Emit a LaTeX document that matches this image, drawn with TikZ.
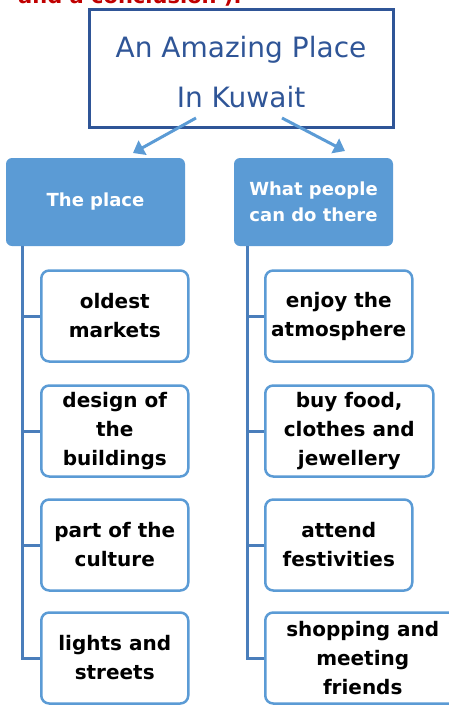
\documentclass[tikz,border=0pt]{standalone}
\usepackage{fontspec}
\setmainfont{DejaVu Sans}
\usetikzlibrary{arrows.meta}
\definecolor{titleblue}{HTML}{2F5597}
\definecolor{boxblue}{HTML}{5B9BD5}
\definecolor{lineblue}{HTML}{4A7EBB}
\definecolor{headred}{HTML}{C00000}
\begin{document}
\begin{tikzpicture}[x=1pt,y=-1pt,
  head/.style={fill=boxblue, rounded corners=6pt, text=white,
    font=\bfseries\fontsize{18}{26}\selectfont, align=center,
    minimum height=88pt, inner sep=0pt},
  item/.style={draw=boxblue, line width=2.5pt, rounded corners=8pt, fill=white,
    font=\bfseries\fontsize{20}{29}\selectfont, align=center,
    minimum height=91pt, inner sep=0pt, anchor=west},
  tree/.style={lineblue, line width=3pt},
  link/.style={boxblue, line width=3pt, -{Triangle[length=11pt,width=16pt]}}]
\useasboundingbox (0,0) rectangle (449,705);
\clip (0,0) rectangle (449,705);

% cut-off line of the task above
\node[headred, font=\bfseries\fontsize{21}{25}\selectfont, anchor=base west, inner sep=0pt]
  (intro) at (18,3) {and a conclusion ).};

% title
\node[draw=titleblue, line width=3pt, minimum width=304pt, minimum height=118pt]
  (title) at (241,68) {};
\node[text=titleblue, font=\fontsize{28}{50}\selectfont, align=center]
  (titletext) at (241,72) {An Amazing Place\\In Kuwait};

% the two headings
\node[head, minimum width=179pt] (place) at (95.5,202) {The place};
\node[head, minimum width=159pt] (people) at (313.5,202) {What people\\can do there};

\coordinate (fromL) at (196,118);
\coordinate (toL) at (133,153);
\coordinate (fromR) at (282,118);
\coordinate (toR) at (345,151);
\draw[link] (fromL) -- (toL);
\draw[link] (fromR) -- (toR);

% left column
\foreach \n/\y/\t in {l1/316/{oldest\\markets},
                      l2/431/{design of\\the\\buildings},
                      l3/545/{part of the\\culture},
                      l4/658/{lights and\\streets}}
  \node[item, minimum width=147pt] (\n) at (40,\y) {\t};

% right column
\foreach \n/\y/\w/\t in {r1/316/147/{enjoy the\\atmosphere},
                         r2/431/168/{buy food,\\clothes and\\jewellery},
                         r3/545/147/{attend\\festivities},
                         r4/658/195/{shopping and\\meeting\\friends}}
  \node[item, minimum width=\w pt] (\n) at (264,\y) {\t};

% tree lines
\coordinate (spineL) at (22,246);
\coordinate (spineR) at (247,246);
\foreach \n in {l1,l2,l3,l4}
  \draw[tree] (spineL) |- (\n.west);
\foreach \n in {r1,r2,r3,r4}
  \draw[tree] (spineR) |- (\n.west);
\end{tikzpicture}
\end{document}
